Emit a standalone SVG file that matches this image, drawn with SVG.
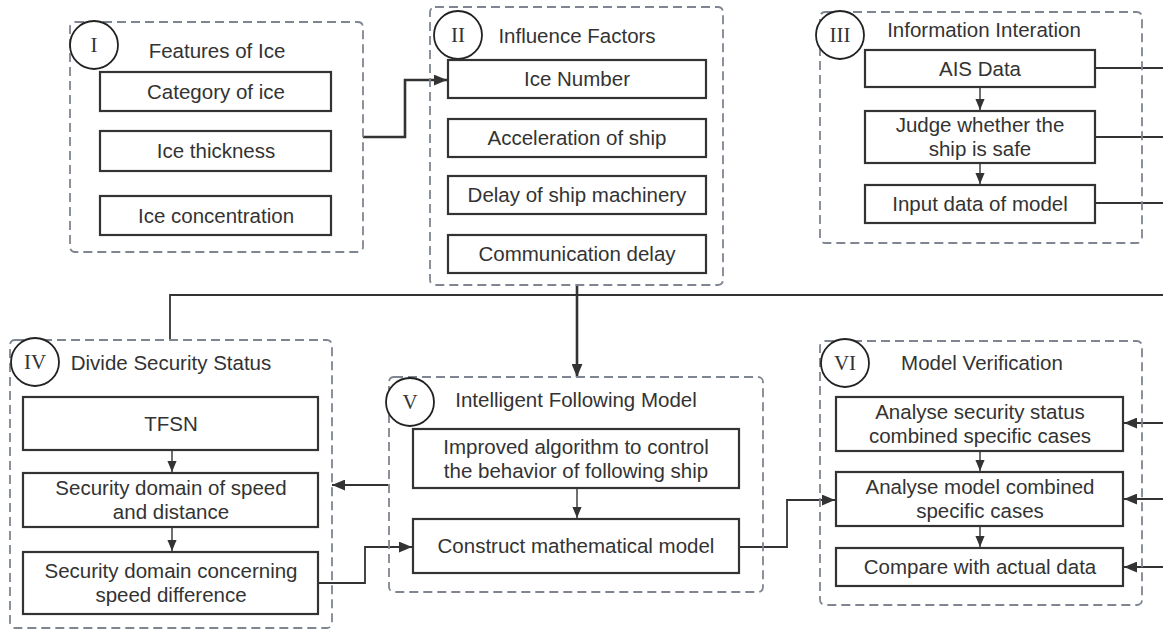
<svg xmlns="http://www.w3.org/2000/svg" width="1163" height="632" viewBox="0 0 1163 632">
  <defs>
    <marker id="arr" viewBox="0 0 12 10" refX="12" refY="5" markerWidth="13" markerHeight="11" markerUnits="userSpaceOnUse" orient="auto">
      <path d="M0,0 L12,5 L0,10 Z" fill="#333"/>
    </marker>
    <marker id="arrS" viewBox="0 0 12 10" refX="12" refY="5" markerWidth="11" markerHeight="10" markerUnits="userSpaceOnUse" orient="auto">
      <path d="M0,0 L12,5 L0,10 Z" fill="#333"/>
    </marker>
  </defs>
  <style>
    .grp { fill: none; stroke: #7f8591; stroke-width: 1.8; stroke-dasharray: 9 5; }
    .box { fill: #fff; stroke: #333; stroke-width: 2.2; }
    .num { fill: #fff; stroke: #222; stroke-width: 1.8; }
    .t { font-family: "Liberation Sans", Arial, sans-serif; font-size: 20.5px; fill: #333; text-anchor: middle; }
    .n { font-family: "Liberation Serif", serif; font-size: 21px; fill: #333; text-anchor: middle; }
    .c { fill: none; stroke: #333; stroke-width: 1.8; }
    .ct { fill: none; stroke: #333; stroke-width: 2.6; }
    .ci { fill: none; stroke: #333; stroke-width: 1.4; }
  </style>
  <rect width="1163" height="632" fill="#fff"/>

  <!-- connectors -->
  <g id="connectors">
    <path class="ct" d="M363 137 H405 V80 H447" marker-end="url(#arr)"/>
    <path class="c" d="M170 340 V295 H1163"/>
    <path class="ct" d="M577 286 V377" marker-end="url(#arr)"/>
    <path class="c" d="M1095 68 H1163"/>
    <path class="c" d="M1095 137 H1163"/>
    <path class="c" d="M1095 203 H1163"/>
    <path class="ci" d="M980 87 V110" marker-end="url(#arrS)"/>
    <path class="ci" d="M980 163 V184" marker-end="url(#arrS)"/>
    <path class="ci" d="M172 450 V472" marker-end="url(#arrS)"/>
    <path class="ci" d="M172 527 V551" marker-end="url(#arrS)"/>
    <path class="c" d="M388 485 H332" marker-end="url(#arr)"/>
    <path class="c" d="M318 583 H365 V547 H412" marker-end="url(#arr)"/>
    <path class="ci" d="M577 488 V518" marker-end="url(#arrS)"/>
    <path class="c" d="M739 547 H787 V500 H835" marker-end="url(#arr)"/>
    <path class="ci" d="M980 451 V471" marker-end="url(#arrS)"/>
    <path class="ci" d="M980 526 V547" marker-end="url(#arrS)"/>
    <path class="c" d="M1163 423 H1124" marker-end="url(#arr)"/>
    <path class="c" d="M1163 499 H1124" marker-end="url(#arr)"/>
    <path class="c" d="M1163 567 H1124" marker-end="url(#arr)"/>
  </g>

  <!-- I -->
  <g id="features-of-ice">
    <rect class="grp" x="70" y="22" width="293" height="230" rx="5"/>
    <circle class="num" cx="94" cy="45" r="24"/>
    <text class="n" x="94" y="52">I</text>
    <text class="t" x="217" y="58">Features of Ice</text>
    <rect class="box" x="100" y="72" width="231" height="39"/>
    <text class="t" x="216" y="98.5">Category of ice</text>
    <rect class="box" x="100" y="131" width="231" height="40"/>
    <text class="t" x="216" y="158">Ice thickness</text>
    <rect class="box" x="100" y="196" width="231" height="39"/>
    <text class="t" x="216" y="222.5">Ice concentration</text>
  </g>

  <!-- II -->
  <g id="influence-factors">
    <rect class="grp" x="430" y="7" width="293" height="278" rx="5"/>
    <circle class="num" cx="458" cy="35" r="24"/>
    <text class="n" x="458" y="42">II</text>
    <text class="t" x="577" y="43">Influence Factors</text>
    <rect class="box" x="448" y="60" width="258" height="38"/>
    <text class="t" x="577" y="86">Ice Number</text>
    <rect class="box" x="448" y="119" width="258" height="38"/>
    <text class="t" x="577" y="145">Acceleration of ship</text>
    <rect class="box" x="448" y="176" width="258" height="38"/>
    <text class="t" x="577" y="202">Delay of ship machinery</text>
    <rect class="box" x="448" y="235" width="258" height="38"/>
    <text class="t" x="577" y="261">Communication delay</text>
  </g>

  <!-- III -->
  <g id="information-interation">
    <rect class="grp" x="820" y="12" width="322" height="231" rx="5"/>
    <circle class="num" cx="840" cy="35" r="24"/>
    <text class="n" x="840" y="42">III</text>
    <text class="t" x="984" y="37">Information Interation</text>
    <rect class="box" x="865" y="50" width="230" height="37"/>
    <text class="t" x="980" y="75.5">AIS Data</text>
    <rect class="box" x="865" y="111" width="230" height="52"/>
    <text class="t" x="980" y="132">Judge whether the<tspan x="980" dy="24">ship is safe</tspan></text>
    <rect class="box" x="865" y="185" width="230" height="38"/>
    <text class="t" x="980" y="211">Input data of model</text>
  </g>

  <!-- IV -->
  <g id="divide-security-status">
    <rect class="grp" x="10" y="340" width="322" height="288" rx="5"/>
    <circle class="num" cx="35" cy="362" r="24"/>
    <text class="n" x="35" y="369">IV</text>
    <text class="t" x="171" y="370">Divide Security Status</text>
    <rect class="box" x="23" y="397" width="295" height="53"/>
    <text class="t" x="171" y="430.5">TFSN</text>
    <rect class="box" x="23" y="473" width="295" height="54"/>
    <text class="t" x="171" y="495">Security domain of speed<tspan x="171" dy="24">and distance</tspan></text>
    <rect class="box" x="23" y="552" width="295" height="62"/>
    <text class="t" x="171" y="578">Security domain concerning<tspan x="171" dy="24">speed difference</tspan></text>
  </g>

  <!-- V -->
  <g id="intelligent-following-model">
    <rect class="grp" x="389" y="377" width="374" height="215" rx="5"/>
    <circle class="num" cx="410" cy="402" r="24"/>
    <text class="n" x="410" y="409">V</text>
    <text class="t" x="576" y="407">Intelligent Following Model</text>
    <rect class="box" x="413" y="429" width="326" height="59"/>
    <text class="t" x="576" y="453.5">Improved algorithm to control<tspan x="576" dy="24">the behavior of following ship</tspan></text>
    <rect class="box" x="413" y="519" width="326" height="54"/>
    <text class="t" x="576" y="553">Construct mathematical model</text>
  </g>

  <!-- VI -->
  <g id="model-verification">
    <rect class="grp" x="820" y="341" width="322" height="264" rx="5"/>
    <circle class="num" cx="845" cy="363" r="24"/>
    <text class="n" x="845" y="370">VI</text>
    <text class="t" x="982" y="370">Model Verification</text>
    <rect class="box" x="836" y="397" width="287" height="54"/>
    <text class="t" x="980" y="419">Analyse security status<tspan x="980" dy="24">combined specific cases</tspan></text>
    <rect class="box" x="836" y="472" width="287" height="54"/>
    <text class="t" x="980" y="494">Analyse model combined<tspan x="980" dy="24">specific cases</tspan></text>
    <rect class="box" x="836" y="548" width="287" height="38"/>
    <text class="t" x="980" y="574">Compare with actual data</text>
  </g>
</svg>
